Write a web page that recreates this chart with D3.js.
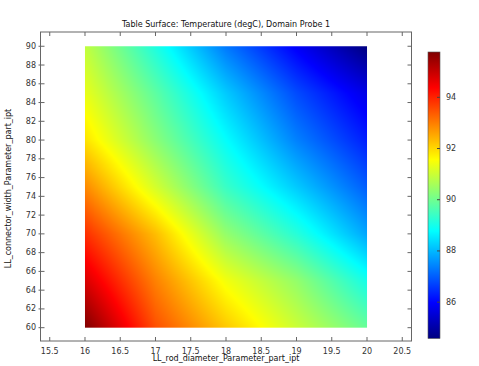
<!DOCTYPE html>
<html>
<head>
<meta charset="utf-8">
<script src="https://cdn.jsdelivr.net/npm/d3@7"></script>
<style>
	body { margin: 0; background: #fff; }
	text { font-family: "DejaVu Sans", sans-serif; }
</style>
</head>
<body>
<div id="res"></div>
<script>
/* grid of the table surface */
var diameters = [16, 17, 18, 19, 20];
var widths = [60, 65, 70, 75, 80, 85, 90];
/* temperature (degC), one row per connector width */
var temps = [
	[95.77, 93.5, 92.17, 91.0, 89.9],
	[94.8, 92.95, 91.45, 90.4, 89.0],
	[93.87, 92.3, 90.4, 89.2, 87.8],
	[92.87, 91.1, 89.4, 88.2, 87.0],
	[91.88, 90.3, 88.8, 87.4, 86.3],
	[91.34, 89.8, 88.2, 86.8, 85.7],
	[90.9, 89.1, 87.3, 85.9, 84.58]
];
var xTicks = [15.5, 16, 16.5, 17, 17.5, 18, 18.5, 19, 19.5, 20, 20.5];
var yTicks = [60, 62, 64, 66, 68, 70, 72, 74, 76, 78, 80, 82, 84, 86, 88, 90];
var cTicks = [86, 88, 90, 92, 94];

/* size of the graphic */
var width = 479;
var height = 366;
var labelSize = 8;
var textColor = '#333';
var frameColor = '#666';

var svg = d3.select("#res")
	.append('svg')
		.attr('width', width)
		.attr('height', height);

/* scales */
var x = d3.scaleLinear()
	.domain([15.369, 20.631])
	.range([40.5, 411.5]);

var y = d3.scaleLinear()
	.domain([58.58, 91.52])
	.range([341, 32]);

var ext = d3.extent(d3.merge(temps));
var c = d3.scaleLinear()
	.domain(ext)
	.range([338.5, 52]);

/* jet colormap */
function jet(v) {
	var t = (v - ext[0]) / (ext[1] - ext[0]);
	function ch(k) { return Math.round(255 * Math.max(0, Math.min(1, 1.5 - Math.abs(4 * t - k)))); }
	return [ch(3), ch(2), ch(1)];
}

/* bilinear value of the table at a point */
function valueAt(xv, yv) {
	var i = Math.max(0, Math.min(diameters.length - 2, d3.bisectRight(diameters, xv) - 1));
	var j = Math.max(0, Math.min(widths.length - 2, d3.bisectRight(widths, yv) - 1));
	var u = (xv - diameters[i]) / (diameters[i + 1] - diameters[i]);
	var w = (yv - widths[j]) / (widths[j + 1] - widths[j]);
	u = Math.max(0, Math.min(1, u));
	w = Math.max(0, Math.min(1, w));
	return temps[j][i] * (1 - u) * (1 - w) + temps[j][i + 1] * u * (1 - w)
		+ temps[j + 1][i] * (1 - u) * w + temps[j + 1][i + 1] * u * w;
}

/* paint the surface on a canvas, then put it in the svg */
var x0 = x(diameters[0]), x1 = x(diameters[diameters.length - 1]);
var y0 = y(widths[widths.length - 1]), y1 = y(widths[0]);
var cw = Math.round(x1 - x0), chh = Math.round(y1 - y0);
var canvas = document.createElement('canvas');
canvas.width = cw;
canvas.height = chh;
var ctx = canvas.getContext('2d');
var img = ctx.createImageData(cw, chh);
for (var py = 0; py < chh; py++) {
	for (var px = 0; px < cw; px++) {
		var v = valueAt(x.invert(x0 + (px + 0.5) * (x1 - x0) / cw), y.invert(y0 + (py + 0.5) * (y1 - y0) / chh));
		var col = jet(v);
		var k = (py * cw + px) * 4;
		img.data[k] = col[0];
		img.data[k + 1] = col[1];
		img.data[k + 2] = col[2];
		img.data[k + 3] = 255;
	}
}
ctx.putImageData(img, 0, 0);

svg.append('image')
	.attr('x', x0)
	.attr('y', y0)
	.attr('width', x1 - x0)
	.attr('height', y1 - y0)
	.attr('preserveAspectRatio', 'none')
	.attr('href', canvas.toDataURL());

/* frame */
svg.append('rect')
	.attr('x', x.range()[0])
	.attr('y', y.range()[1])
	.attr('width', x.range()[1] - x.range()[0])
	.attr('height', y.range()[0] - y.range()[1])
	.style('fill', 'none')
	.style('stroke', frameColor)
	.attr('stroke-width', 1);

/* ticks on all four sides */
xTicks.forEach(function(t) {
	svg.append('line').style('stroke', frameColor)
		.attr('x1', x(t)).attr('x2', x(t))
		.attr('y1', y.range()[0]).attr('y2', y.range()[0] - 4);
	svg.append('line').style('stroke', frameColor)
		.attr('x1', x(t)).attr('x2', x(t))
		.attr('y1', y.range()[1]).attr('y2', y.range()[1] + 4);
	svg.append('text')
		.attr('x', x(t))
		.attr('y', 353.5)
		.attr('text-anchor', 'middle')
		.style('font-size', labelSize + 'px')
		.style('fill', textColor)
		.text(t);
});

yTicks.forEach(function(t) {
	svg.append('line').style('stroke', frameColor)
		.attr('x1', x.range()[0] - 2).attr('x2', x.range()[0] + 4)
		.attr('y1', y(t)).attr('y2', y(t));
	svg.append('line').style('stroke', frameColor)
		.attr('x1', x.range()[1]).attr('x2', x.range()[1] - 4)
		.attr('y1', y(t)).attr('y2', y(t));
	svg.append('text')
		.attr('x', 36)
		.attr('y', y(t))
		.attr('text-anchor', 'end')
		.attr('dominant-baseline', 'central')
		.style('font-size', labelSize + 'px')
		.style('fill', textColor)
		.text(t);
});

/* colour legend */
var defs = svg.append('defs');
var grad = defs.append('linearGradient')
	.attr('id', 'jet')
	.attr('x1', 0).attr('y1', 1)
	.attr('x2', 0).attr('y2', 0);
d3.range(0, 9).forEach(function(i) {
	var col = jet(ext[0] + (ext[1] - ext[0]) * i / 8);
	grad.append('stop')
		.attr('offset', (i / 8 * 100) + '%')
		.attr('stop-color', 'rgb(' + col.join(',') + ')');
});

svg.append('rect')
	.attr('x', 428)
	.attr('y', c.range()[1])
	.attr('width', 12)
	.attr('height', c.range()[0] - c.range()[1])
	.style('fill', 'url(#jet)')
	.style('stroke', '#555')
	.attr('stroke-width', 0.6);

cTicks.forEach(function(t) {
	svg.append('line').style('stroke', '#444')
		.attr('x1', 440).attr('x2', 437)
		.attr('y1', c(t)).attr('y2', c(t));
	svg.append('text')
		.attr('x', 446)
		.attr('y', c(t))
		.attr('dominant-baseline', 'central')
		.style('font-size', labelSize + 'px')
		.style('fill', textColor)
		.text(t);
});

/* title and axis labels */
svg.append('text')
	.attr('x', 226)
	.attr('y', 26.5)
	.attr('text-anchor', 'middle')
	.style('font-size', labelSize + 'px')
	.style('fill', '#111')
	.text('Table Surface: Temperature (degC), Domain Probe 1');

svg.append('text')
	.attr('x', 226)
	.attr('y', 361)
	.attr('text-anchor', 'middle')
	.style('font-size', labelSize + 'px')
	.style('fill', '#111')
	.text('LL_rod_diameter_Parameter_part_ipt');

svg.append('text')
	.attr('transform', 'translate(10.5,188.5) rotate(-90)')
	.attr('text-anchor', 'middle')
	.style('font-size', labelSize + 'px')
	.style('fill', '#111')
	.text('LL_connector_width_Parameter_part_ipt');
</script>
</body>
</html>
